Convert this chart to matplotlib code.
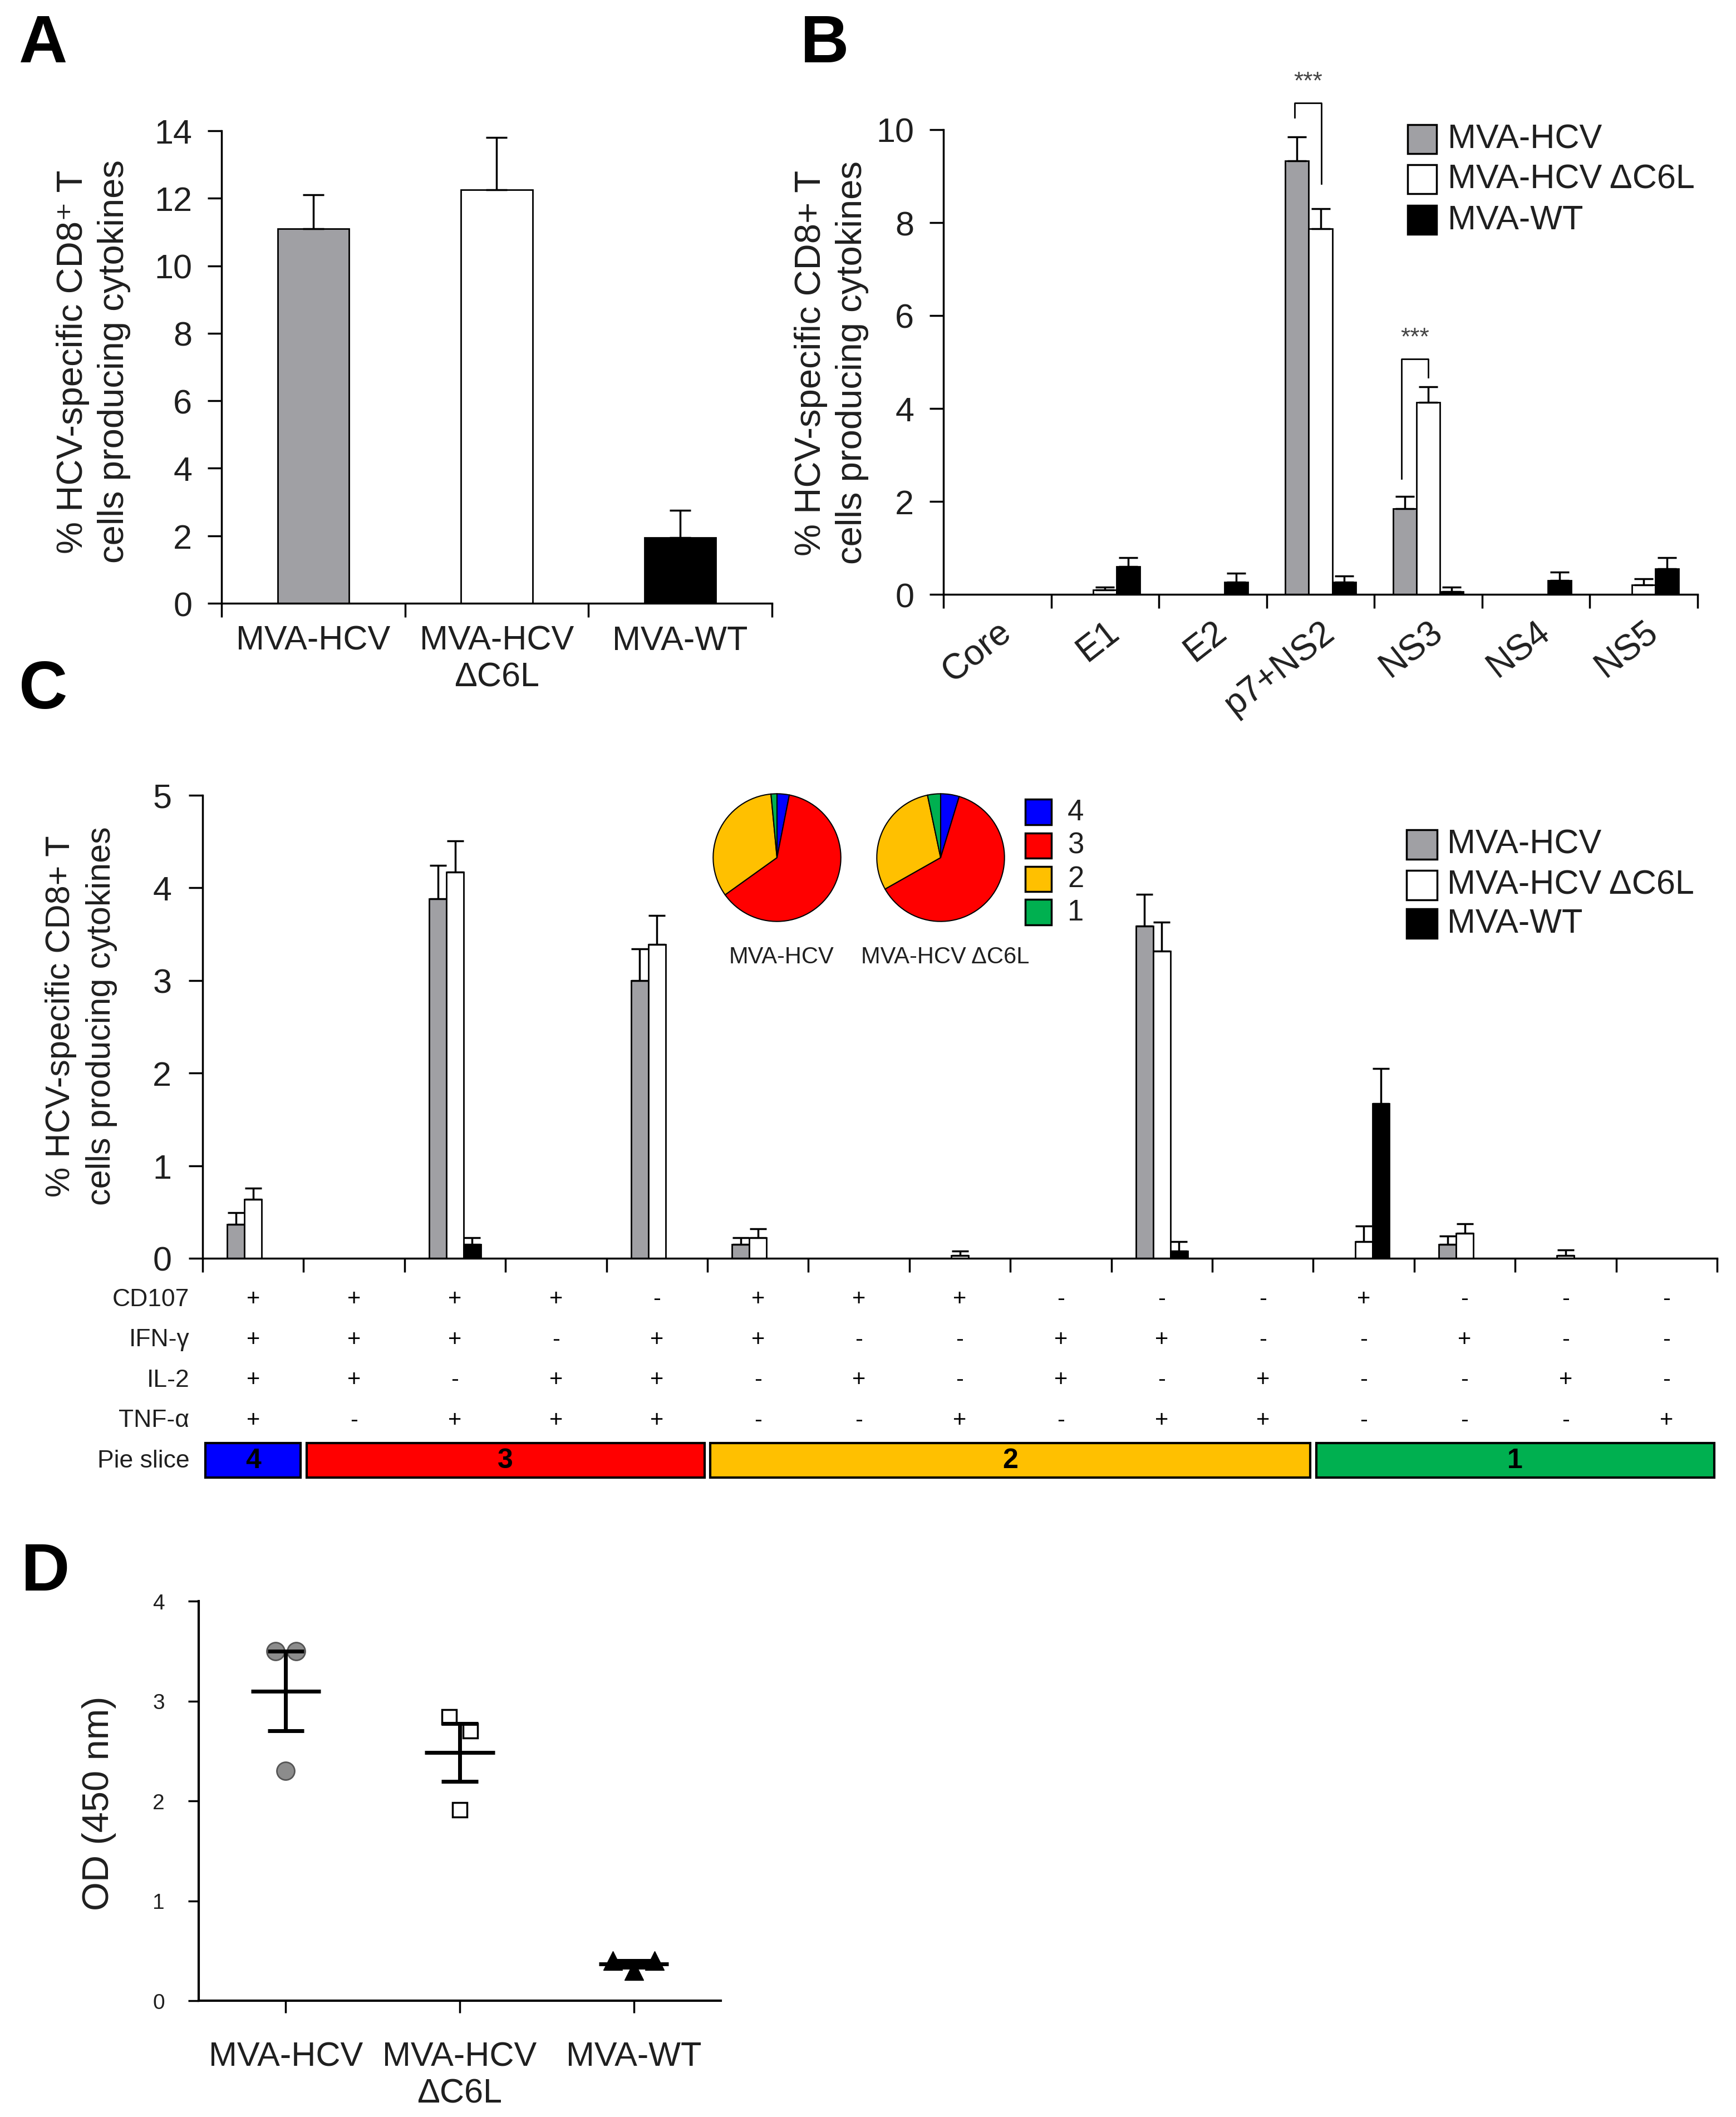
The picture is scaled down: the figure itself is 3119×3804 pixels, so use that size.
import numpy as np
import matplotlib
matplotlib.use("Agg")
import matplotlib.pyplot as plt
from matplotlib.patches import Rectangle
from matplotlib import font_manager

W, H = 3119, 3805
plt.rcParams['font.family'] = ['Liberation Sans', 'DejaVu Sans']
names = {f.name for f in font_manager.fontManager.ttflist}
NARROW = ['Liberation Sans Narrow', 'DejaVu Sans'] if 'Liberation Sans Narrow' in names else ['Liberation Sans', 'DejaVu Sans']
TXT = '#1f1f1f'

# ---------------- data ----------------
groups = ['MVA-HCV', 'MVA-HCV\nΔC6L', 'MVA-WT']
series = ['MVA-HCV', 'MVA-HCV ΔC6L', 'MVA-WT']
bar_colors = ['#a0a0a4', 'white', 'black']

# A: total response
a_vals = [11.1, 12.25, 1.95]
a_err = [1.0, 1.55, 0.8]

# B: per antigen
b_cats = ['Core', 'E1', 'E2', 'p7+NS2', 'NS3', 'NS4', 'NS5']
b_hcv = [0, 0, 0, 9.33, 1.85, 0, 0]
b_hcv_err = [0, 0, 0, 0.52, 0.26, 0, 0]
b_dc6l = [0, 0.10, 0, 7.87, 4.13, 0, 0.20]
b_dc6l_err = [0, 0.05, 0, 0.43, 0.34, 0, 0.14]
b_wt = [0, 0.60, 0.26, 0.26, 0.06, 0.30, 0.55]
b_wt_err = [0, 0.19, 0.19, 0.14, 0.09, 0.18, 0.24]
# significance brackets: x left, x right, left leg bottom, top, right leg bottom
b_sig = [(2.76, 3.01, 10.26, 10.57, 8.84), (3.75, 4.00, 2.49, 5.06, 4.67)]

# C: polyfunctionality
c_hcv = [0.365, 0, 3.88, 0, 3.00, 0.15, 0, 0, 0, 3.59, 0, 0, 0.15, 0, 0]
c_hcv_err = [0.125, 0, 0.36, 0, 0.34, 0.07, 0, 0, 0, 0.34, 0, 0, 0.09, 0, 0]
c_dc6l = [0.64, 0, 4.17, 0, 3.39, 0.22, 0, 0.03, 0, 3.32, 0, 0.18, 0.27, 0.03, 0]
c_dc6l_err = [0.12, 0, 0.34, 0, 0.31, 0.10, 0, 0.05, 0, 0.31, 0, 0.17, 0.10, 0.06, 0]
c_wt = [0, 0, 0.15, 0, 0, 0, 0, 0, 0, 0.08, 0, 1.67, 0, 0, 0]
c_wt_err = [0, 0, 0.07, 0, 0, 0, 0, 0, 0, 0.10, 0, 0.38, 0, 0, 0]
markers = ['CD107', 'IFN-γ', 'IL-2', 'TNF-α']
signs = ['++++-+++---+---',
         '+++-++--++--+--',
         '++-++-+-+-+--+-',
         '+-+++--+-++---+']
slice_colors = {4: '#0000ff', 3: '#ff0000', 2: '#ffc000', 1: '#00b050'}
pie_names = ['MVA-HCV', 'MVA-HCV ΔC6L']
pie_hcv = [3.1, 62.0, 33.4, 1.5]     # slices 4, 3, 2, 1
pie_dc6l = [4.7, 62.1, 29.9, 3.3]

# D: ELISA
d_hcv = [3.50, 3.50, 2.30]
d_dc6l = [2.84, 2.70, 1.91]
d_wt = [0.40, 0.40, 0.30]


# ---------------- helpers ----------------
fig = plt.figure(figsize=(W / 100, H / 100), dpi=100)


def px_rect(x0, y0, x1, y1):
    return [x0 / W, 1 - y1 / H, (x1 - x0) / W, (y1 - y0) / H]


def ftext(x, y, s, **kw):
    fig.text(x / W, 1 - y / H, s, **kw)


def style(ax, ymax, ystep, n, fs, ypad, family=None):
    for s in ['top', 'right']:
        ax.spines[s].set_visible(False)
    for s in ['left', 'bottom']:
        ax.spines[s].set_linewidth(2.5)
    ax.set_ylim(0, ymax)
    ax.set_yticks(np.arange(0, ymax + 0.01, ystep))
    ax.set_xlim(-0.5, n - 0.5)
    ax.set_xticks(np.arange(n + 1) - 0.5)
    ax.set_xticklabels([])
    ax.tick_params(axis='both', which='major', length=18, width=2.5, labelsize=fs,
                   labelcolor=TXT)
    ax.tick_params(axis='y', pad=ypad)
    if family:
        for t in ax.get_yticklabels():
            t.set_family(family)


def bars(ax, x, vals, errs, width, color, capsize):
    x = np.asarray(x, float)
    vals = np.asarray(vals, float)
    errs = np.asarray(errs, float)
    ax.bar(x, vals, width, color=color, edgecolor='black', linewidth=2, zorder=2)
    m = errs > 0
    ax.errorbar(x[m], vals[m], yerr=[np.zeros(m.sum()), errs[m]], fmt='none',
                ecolor='black', elinewidth=2.5, capsize=capsize, capthick=2.5, zorder=3)


def legend_px(x0, x1, ycs, h, labels, colors, tx, fs, family=None):
    for yc, lab, c in zip(ycs, labels, colors):
        fig.add_artist(Rectangle((x0 / W, 1 - (yc + h / 2) / H), (x1 - x0) / W, h / H,
                                 transform=fig.transFigure, facecolor=c,
                                 edgecolor='black', lw=2.5))
        ftext(tx, yc, lab, ha='left', va='center', fontsize=fs, color=TXT,
              family=family if family else None)


# ---------------- panel A ----------------
axA = fig.add_axes(px_rect(398, 236, 1387, 1085))
style(axA, 14, 2, 3, 44, 20)
bars(axA, np.arange(3), a_vals, a_err, 0.39, bar_colors, 14)
axA.set_xticks(np.arange(3), minor=True)
axA.set_xticklabels(groups, minor=True, fontsize=44, color=TXT)
axA.tick_params(axis='x', which='minor', length=0, pad=28)
ftext(168, 650, '% HCV-specific CD8⁺ T\ncells producing cytokines', rotation=90,
      ha='center', va='center', fontsize=47, color=TXT, linespacing=1.3,
      multialignment='center')
ftext(34, 112, 'A', fontsize=87, fontweight='bold', ha='left', va='baseline')

# ---------------- panel B ----------------
axB = fig.add_axes(px_rect(1695, 234, 3050, 1069))
style(axB, 10, 2, 7, 44, 20)
xb = np.arange(len(b_cats))
wb = 0.217
for k, (v, e) in enumerate([(b_hcv, b_hcv_err), (b_dc6l, b_dc6l_err), (b_wt, b_wt_err)]):
    bars(axB, xb + (k - 1) * wb, v, e, wb, bar_colors[k], 12)
axB.set_xticks(xb, minor=True)
axB.set_xticklabels(b_cats, minor=True, fontsize=46, color=TXT, rotation=38,
                    ha='right', va='top', rotation_mode='anchor')
axB.tick_params(axis='x', which='minor', length=0, pad=26)
for xl, xr, yl, yt, yr in b_sig:
    axB.plot([xl, xl, xr, xr], [yl, yt, yt, yr], color='black', lw=2, clip_on=False, zorder=4)
    axB.text((xl + xr) / 2, yt + 0.22, '***', ha='center', va='bottom', fontsize=32,
             color='#444444', clip_on=False)
legend_px(2529, 2581, [251, 323, 396], 52, series, bar_colors, 2601, 44)
ftext(1494, 652, '% HCV-specific CD8+ T\ncells producing cytokines', rotation=90,
      ha='center', va='center', fontsize=47, color=TXT, linespacing=1.3,
      multialignment='center')
ftext(1438, 112, 'B', fontsize=87, fontweight='bold', ha='left', va='baseline')

# ---------------- panel C ----------------
axC = fig.add_axes(px_rect(364, 1430, 3085, 2262))
nc = len(c_hcv)
style(axC, 5, 1, nc, 44, 22, NARROW)
xc = np.arange(nc)
wc = 0.17
for k, (v, e) in enumerate([(c_hcv, c_hcv_err), (c_dc6l, c_dc6l_err), (c_wt, c_wt_err)]):
    bars(axC, xc + (k - 1) * wc, v, e, wc, bar_colors[k], 11)
legend_px(2527, 2582, [1518, 1591, 1660], 53, series, bar_colors, 2600, 44)
ftext(146, 1826, '% HCV-specific CD8+ T\ncells producing cytokines', rotation=90,
      ha='center', va='center', fontsize=44, color=TXT, linespacing=1.35,
      multialignment='center')
ftext(34, 1273, 'C', fontsize=87, fontweight='bold', ha='left', va='baseline')

# pies
order = [4, 3, 2, 1]
for cx, data, name in [(1396, pie_hcv, pie_names[0]), (1690, pie_dc6l, pie_names[1])]:
    axp = fig.add_axes(px_rect(cx - 117, 1542 - 117, cx + 117, 1542 + 117))
    axp.pie(data, colors=[slice_colors[o] for o in order], startangle=90,
            counterclock=False, wedgeprops=dict(edgecolor='black', linewidth=1.5))
    axp.set_xlim(-1.02, 1.02)
    axp.set_ylim(-1.02, 1.02)
    axp.set_aspect('equal')
    axp.axis('off')
    ftext(cx + 8, 1720, name, ha='center', va='center', fontsize=30, color=TXT, family=NARROW)
legend_px(1842, 1889, [1460, 1520, 1580, 1640], 45, [str(o) for o in order],
          [slice_colors[o] for o in order], 1918, 38, NARROW)

# table under C
axT = fig.add_axes(px_rect(364, 2299, 3085, 2665))
axT.set_xlim(-0.5, nc - 0.5)
axT.set_ylim(4.55, -0.5)
axT.axis('off')
for r, (lab, row) in enumerate(zip(markers, signs)):
    axT.text(-0.63, r, lab, ha='right', va='center', fontsize=32, color=TXT, family=NARROW)
    for i, s in enumerate(row):
        axT.text(i, r, s, ha='center', va='center', fontsize=30, color='black')
axT.text(-0.63, 4, 'Pie slice', ha='right', va='center', fontsize=32, color=TXT, family=NARROW)
npos = [sum(row[i] == '+' for row in signs) for i in range(nc)]
start = 0
for i in range(1, nc + 1):
    if i == nc or npos[i] != npos[start]:
        g = 0.03
        axT.add_patch(Rectangle((start - 0.5 + g, 4 - 0.43), i - start - 2 * g, 0.86,
                                facecolor=slice_colors[npos[start]], edgecolor='black',
                                lw=3, clip_on=False))
        axT.text((start + i - 1) / 2, 4, str(npos[start]), ha='center', va='center',
                 fontsize=36, fontweight='bold', color='black', family=NARROW)
        start = i

# ---------------- panel D ----------------
axD = fig.add_axes(px_rect(357, 2878, 1295, 3596))
for s in ['top', 'right']:
    axD.spines[s].set_visible(False)
for s in ['left', 'bottom']:
    axD.spines[s].set_linewidth(3)
axD.set_xlim(-0.5, 2.5)
axD.set_ylim(0, 4)
axD.set_yticks(range(5))
axD.set_xticks(range(3))
axD.set_xticklabels(groups, fontsize=44, color=TXT)
axD.tick_params(axis='x', length=16, width=2.5, pad=36)
axD.tick_params(axis='y', length=14, width=2.5, pad=30, labelsize=28, labelcolor=TXT)
for t in axD.get_yticklabels():
    t.set_family(NARROW)
jit = [[-0.06, 0.06, 0.0], [-0.06, 0.06, 0.0], [-0.12, 0.12, 0.0]]
styles = [dict(marker='o', ms=23, mfc='#8c8c8c', mec='#555555', mew=2),
          dict(marker='s', ms=19, mfc='white', mec='black', mew=2.5),
          dict(marker='^', ms=24, mfc='black', mec='black', mew=1)]
for i, vals in enumerate([d_hcv, d_dc6l, d_wt]):
    vals = np.asarray(vals)
    axD.plot(i + np.asarray(jit[i]), vals, ls='none', zorder=2, **styles[i])
    m = vals.mean()
    sem = vals.std(ddof=1) / np.sqrt(len(vals))
    axD.hlines(m, i - 0.2, i + 0.2, color='black', lw=5, zorder=3)
    axD.vlines(i, m - sem, m + sem, color='black', lw=5, zorder=3)
    axD.hlines([m - sem, m + sem], i - 0.105, i + 0.105, color='black', lw=5, zorder=3)
ftext(178, 3240, 'OD (450 nm)', rotation=90, ha='center', va='center', fontsize=48, color=TXT)
ftext(38, 2858, 'D', fontsize=87, fontweight='bold', ha='left', va='baseline')

fig.savefig('out.png', dpi=100, facecolor='white')
